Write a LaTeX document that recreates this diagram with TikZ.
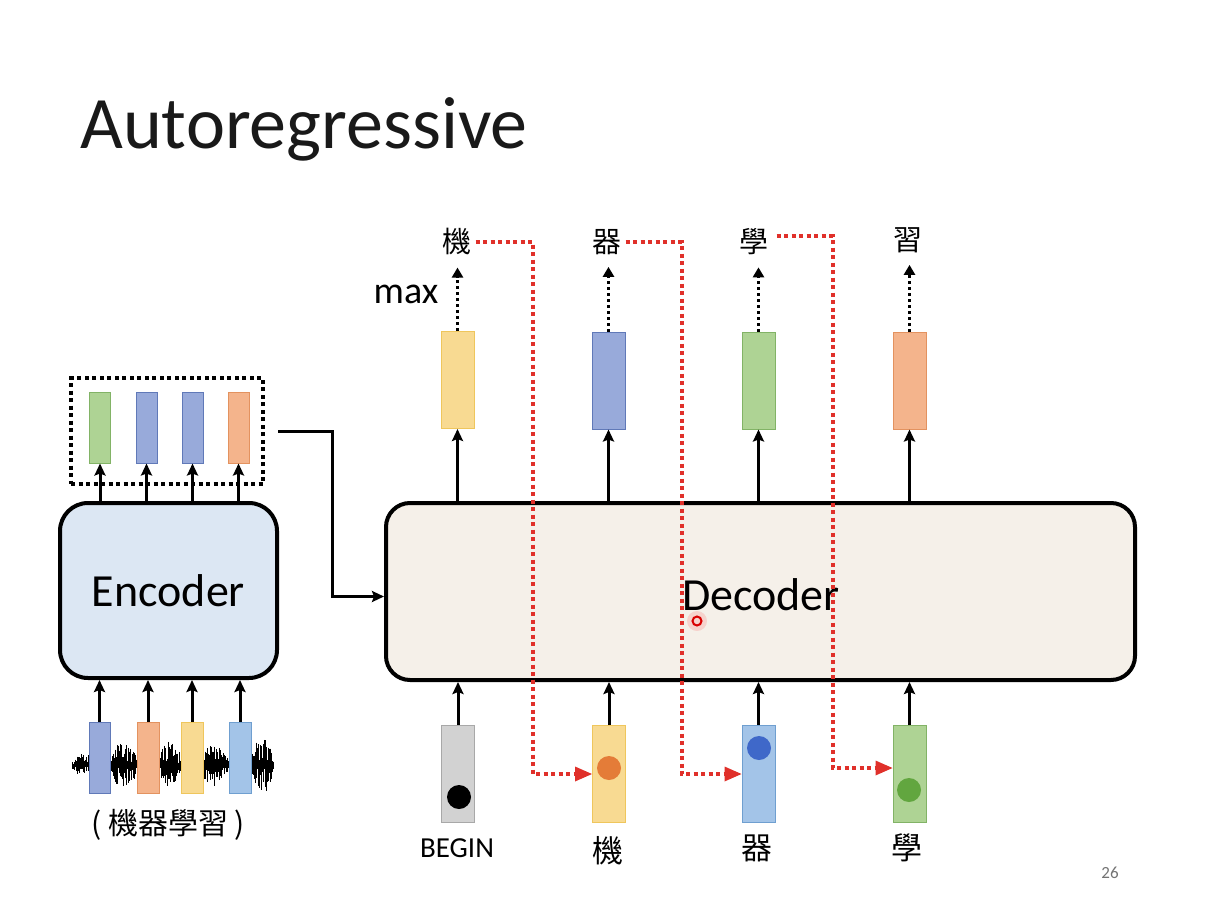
\documentclass[tikz,border=0pt]{standalone}
\usepackage{fontspec}
\setmainfont{Carlito}
\newfontfamily\cjk{Noto Sans CJK TC}
\usetikzlibrary{arrows.meta,calc}

\definecolor{encfill}{HTML}{DCE7F3}
\definecolor{decfill}{HTML}{F5F0E9}
\definecolor{ylwF}{HTML}{F8DA92}\definecolor{ylwD}{HTML}{EFC65C}
\definecolor{bluF}{HTML}{98AADA}\definecolor{bluD}{HTML}{6079B8}
\definecolor{grnF}{HTML}{AED394}\definecolor{grnD}{HTML}{82B366}
\definecolor{orgF}{HTML}{F4B48C}\definecolor{orgD}{HTML}{E3925F}
\definecolor{lbF}{HTML}{A3C4E8}\definecolor{lbD}{HTML}{6F9FD0}
\definecolor{gryF}{HTML}{D2D2D2}\definecolor{gryD}{HTML}{A8A8A8}
\definecolor{redline}{HTML}{E0302A}
\definecolor{dotorange}{HTML}{E47C38}
\definecolor{dotblue}{HTML}{3F68C9}
\definecolor{dotgreen}{HTML}{62A63F}

\tikzset{
  bigbox/.style={draw=black, line width=4pt, rounded corners=28pt, inner sep=0pt,
    font=\fontsize{46}{50}\selectfont},
  vbar/.style={draw=#1D, fill=#1F, line width=1pt, inner sep=0pt},
  smallbar/.style={minimum width=21pt, minimum height=71pt},
  tallbar/.style={minimum width=33pt, minimum height=97pt},
  arr/.style={line width=3pt, -{Stealth[length=12pt,width=11pt,inset=2pt]}},
  maxarr/.style={line width=3pt, dash pattern=on 3pt off 3pt, -{Triangle[length=10pt,width=11pt]}},
  redarr/.style={draw=redline, line width=4pt, dash pattern=on 4pt off 3.5pt},
  cn/.style={font=\cjk\fontsize{29}{30}\selectfont, inner sep=0pt},
  dot/.style={circle, inner sep=0pt, minimum size=24pt}
}

\begin{document}
\begin{tikzpicture}[x=1pt, y=-1pt]
\useasboundingbox[fill=white] (0,0) rectangle (1208,902);

% title
\node[anchor=base west, inner sep=0pt, font=\fontsize{74}{80}\selectfont, text=black!90] (title) at (80,148) {Autoregressive};

% ---------------- encoder side ----------------
\node[bigbox, fill=encfill, minimum width=217pt, minimum height=175pt] (enc) at (168.5,590.5) {Encoder};

% encoder output vectors
\node[vbar=grn, smallbar] (e1) at (100,427.5) {};
\node[vbar=blu, smallbar] (e2) at (146.5,427.5) {};
\node[vbar=blu, smallbar] (e3) at (192.5,427.5) {};
\node[vbar=org, smallbar] (e4) at (238.5,427.5) {};
\node[draw=black, line width=4pt, dash pattern=on 4pt off 3.5pt, minimum width=192pt, minimum height=106pt, inner sep=0pt] (dbox) at (167,431) {};
\foreach \i in {1,...,4}{
  \draw[arr] (enc.north -| e\i) -- (e\i.south);
}

% speech waveform
\pgfmathsetseed{11}
\draw[line width=1.2pt] (72,765) -- (273,765);
\foreach \x in {72,72.7,...,273}{
  \pgfmathsetmacro\env{4 + 8*max(0,1-((\x-84)/12)^2) + 20*max(0,1-((\x-124)/15)^2) + 20*max(0,1-((\x-170)/13)^2) + 17*max(0,1-((\x-214)/15)^2) + 24*max(0,1-((\x-262)/13)^2)}
  \pgfmathsetmacro\a{\env*(0.15+0.85*rnd)}
  \pgfmathsetmacro\b{\env*(0.15+0.85*rnd)}
  \draw[line width=0.7pt] (\x,765-\a) -- (\x,765+\b);
}

% encoder input vectors
\node[vbar=blu, smallbar] (x1) at (99.5,757.5) {};
\node[vbar=org, smallbar, minimum width=22pt] (x2) at (148,757.5) {};
\node[vbar=ylw, smallbar, minimum width=22pt] (x3) at (192,757.5) {};
\node[vbar=lb, smallbar, minimum width=22pt] (x4) at (240,757.5) {};
\foreach \i in {1,...,4}{
  \draw[arr] (x\i.north) -- (enc.south -| x\i);
}
\node[cn, font=\cjk\fontsize{30}{32}\selectfont] (src) at (168,825) {( 機器學習 )};

% ---------------- decoder side ----------------
\node[bigbox, fill=decfill, rounded corners=24pt, minimum width=749pt, minimum height=177pt] (dec) at (760.5,591.5) {};
\node[inner sep=0pt, font=\fontsize{46}{50}\selectfont] (declabel) at (761,595) {Decoder};

% encoder -> decoder
\draw[arr] ([xshift=13pt]dbox.east) -- ++(54,0) |- ([yshift=-5pt]dec.west);

% decoder inputs
\node[vbar=gry, tallbar] (i1) at (458,774) {};
\node[vbar=ylw, tallbar] (i2) at (609,774) {};
\node[vbar=lb, tallbar] (i3) at (758.5,774) {};
\node[vbar=grn, tallbar] (i4) at (909.5,774) {};
\node[dot, fill=black] (d1) at (459,797) {};
\node[dot, fill=dotorange] (d2) at (609,768) {};
\node[dot, fill=dotblue] (d3) at (759,748) {};
\node[dot, fill=dotgreen] (d4) at (909,790) {};
\foreach \i in {1,...,4}{
  \draw[arr] (i\i.north) -- (dec.south -| i\i);
}
\node[inner sep=0pt, font=\fontsize{29}{30}\selectfont] (b1) at (457,848) {BEGIN};
\node[cn, font=\cjk\fontsize{31}{32}\selectfont] (b2) at (608,851) {機};
\node[cn, font=\cjk\fontsize{31}{32}\selectfont] (b3) at (757,848) {器};
\node[cn, font=\cjk\fontsize{31}{32}\selectfont] (b4) at (907,848) {學};

% decoder outputs
\node[vbar=ylw, tallbar] (o1) at (457.5,380) {};
\node[vbar=blu, tallbar] (o2) at (608.5,380.5) {};
\node[vbar=grn, tallbar] (o3) at (758.5,380.5) {};
\node[vbar=org, tallbar] (o4) at (909.5,380.5) {};
\foreach \i in {1,...,4}{
  \draw[arr] (dec.north -| o\i) -- (o\i.south);
}

% output tokens
\node[cn] (t1) at (457,242) {機};
\node[cn] (t2) at (607,242) {器};
\node[cn] (t3) at (754,242) {學};
\node[cn] (t4) at (908,240) {習};
\foreach \i in {1,...,4}{
  \draw[maxarr] (o\i.north) -- ([yshift=-12pt]o\i.north |- t\i.south);
}
\node[inner sep=0pt, font=\fontsize{38}{40}\selectfont] (maxlabel) at (406,294) {max};

% feeding each output back as the next input
\draw[redarr] ([xshift=4pt]t1.east) -| ($(i2.west)+(-59,0)$) -- ([xshift=-10pt]i2.west);
\draw[redarr] ([xshift=4pt]t2.east) -| ($(i3.west)+(-60,0)$) -- ([xshift=-10pt]i3.west);
\draw[redarr] ([xshift=8pt,yshift=6pt]t3.east) -| ($(i4.west)+(-60,-6)$) -- ([xshift=-10pt,yshift=6pt]i4.west);
\fill[redline] (i2.west) -- ++(-17,-7.5) -- ++(0,15) -- cycle;
\fill[redline] (i3.west) -- ++(-17,-7.5) -- ++(0,15) -- cycle;
\fill[redline] ([yshift=6pt]i4.west) -- ++(-17,-7.5) -- ++(0,15) -- cycle;

% pointer mark
\fill[red, opacity=0.12] (697,621) circle (10);
\draw[red!85!black, line width=2pt] (697,621) circle (4.5);

% page number
\node[inner sep=0pt, text=black!55, font=\fontsize{17}{18}\selectfont] (pagenum) at (1110,873) {26};
\end{tikzpicture}
\end{document}
